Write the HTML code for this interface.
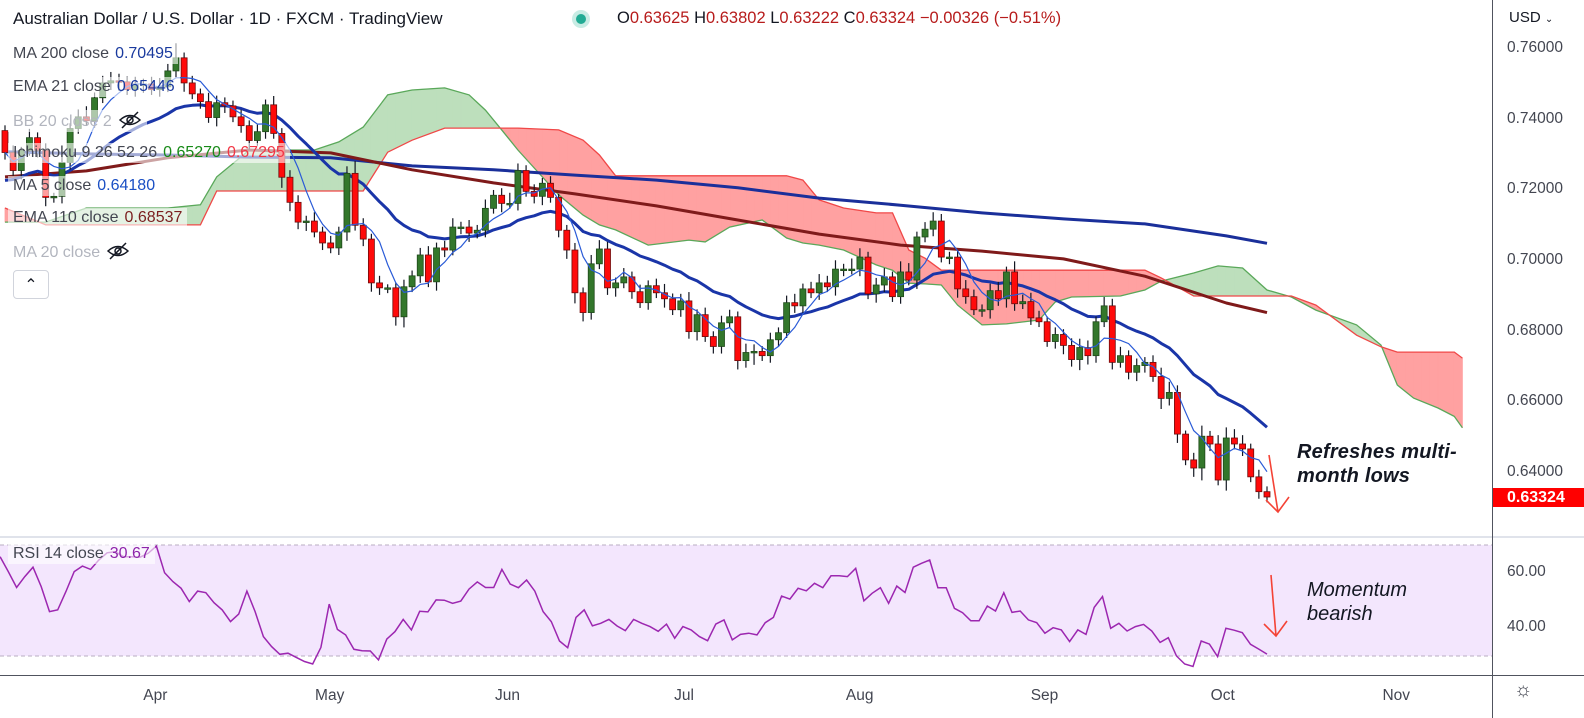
<!DOCTYPE html>
<html><head><meta charset="utf-8">
<style>
html,body{margin:0;padding:0;background:#fff;}
#wrap{position:relative;width:1584px;height:718px;overflow:hidden;font-family:"Liberation Sans",sans-serif;color:#131722;}
#chart{position:absolute;left:0;top:0;}
.hdr{position:absolute;left:13px;top:9px;font-size:17px;color:#131722;white-space:nowrap;}
.ohlc{position:absolute;left:617px;top:9px;font-size:16.5px;white-space:nowrap;color:#131722;}
.ohlc b{font-weight:normal;color:#b71c1c;}
.lg{position:absolute;left:8px;font-size:16px;white-space:nowrap;background:rgba(255,255,255,0.6);padding:1px 5px;color:#434651;}
.lg span{margin-left:6px;}
.lg span svg{position:static;display:inline-block;vertical-align:-3px;}
.muted{color:#b2b5be;}
.ax{position:absolute;font-size:15.5px;color:#434651;white-space:nowrap;}
.note{position:absolute;font-style:italic;font-weight:bold;font-size:20px;color:#131722;line-height:24px;letter-spacing:0.2px;}
.note2{position:absolute;font-style:italic;font-size:20px;color:#131722;line-height:24px;}
</style></head><body>
<div id="wrap">
<svg id="chart" width="1584" height="718"></svg>

<div class="hdr">Australian Dollar / U.S. Dollar · 1D · FXCM · TradingView</div>
<div style="position:absolute;left:572px;top:10px;width:18px;height:18px;border-radius:50%;background:#c8ece4;"></div>
<div style="position:absolute;left:576px;top:14px;width:10px;height:10px;border-radius:50%;background:#22ab94;"></div>
<div class="ohlc">O<b>0.63625</b> H<b>0.63802</b> L<b>0.63222</b> C<b>0.63324</b> <b>−0.00326 (−0.51%)</b></div>

<div class="lg" style="top:44px">MA 200 close<span style="color:#1a3a9e">0.70495</span></div>
<div class="lg" style="top:77px">EMA 21 close<span style="color:#1a3a9e">0.65446</span></div>
<div class="lg muted" style="top:110px">BB 20 close 2<span><svg width="24" height="18" viewBox="0 0 24 18"><path d="M2 9 Q12 0 22 9 Q12 18 2 9Z" fill="none" stroke="#131722" stroke-width="1.5"/><circle cx="12" cy="9" r="3" fill="none" stroke="#131722" stroke-width="1.5"/><line x1="4" y1="17" x2="20" y2="1" stroke="#131722" stroke-width="1.5"/></svg></span></div>
<div class="lg" style="top:143px">Ichimoku 9 26 52 26<span style="color:#178a17">0.65270</span><span style="color:#f23645">0.67295</span></div>
<div class="lg" style="top:176px">MA 5 close<span style="color:#1a4fc4">0.64180</span></div>
<div class="lg" style="top:208px">EMA 110 close<span style="color:#7b1f1f">0.68537</span></div>
<div class="lg muted" style="top:241px">MA 20 close<span><svg width="24" height="18" viewBox="0 0 24 18"><path d="M2 9 Q12 0 22 9 Q12 18 2 9Z" fill="none" stroke="#131722" stroke-width="1.5"/><circle cx="12" cy="9" r="3" fill="none" stroke="#131722" stroke-width="1.5"/><line x1="4" y1="17" x2="20" y2="1" stroke="#131722" stroke-width="1.5"/></svg></span></div>
<div style="position:absolute;left:13px;top:270px;width:34px;height:27px;border:1px solid #d1d4dc;border-radius:4px;background:#fff;text-align:center;font-size:16px;line-height:30px;">&#8963;</div>

<div class="lg" style="top:544px;left:8px">RSI 14 close<span style="color:#8e24aa">30.67</span></div>

<div class="ax" style="left:1509px;top:9px;font-size:15px;color:#131722">USD <span style="font-size:10px">&#8964;</span></div>

<div class="note" style="left:1297px;top:440px">Refreshes multi-<br>month lows</div>
<div class="note2" style="left:1307px;top:578px">Momentum<br>bearish</div>

<div class="ax" style="left:1514px;top:679px;font-size:20px">&#9788;</div>
</div>

<script>
// ---- data ----
const closes = [
.7307,.7256,.7313,.7349,.7313,.7180,.7183,.7279,.7375,.7408,
.7397,.7462,.7504,.7510,.7507,.7485,.7501,.7501,.7485,.7493,
.7538,.7575,.7504,.7473,.7451,.7406,.7448,.7439,.7408,.7383,
.7341,.7366,.7442,.7361,.7237,.7166,.7110,.7113,.7082,.7051,
.7037,.7082,.7248,.7101,.7062,.6938,.6924,.6924,.6842,
.6927,.6958,.7017,.6941,.7037,.7031,.7096,.7096,.7079,.7087,
.7149,.7186,.7163,.7163,.7256,.7197,.7183,.7220,.7180,.7087,
.7031,.6910,.6854,.6992,.7034,.6924,.6938,.6955,.6913,.6882,
.6930,.6910,.6893,.6862,.6887,.6800,.6848,.6786,.6758,.6825,
.6842,.6718,.6741,.6744,.6732,.6777,.6797,.6882,.6873,
.6921,.6910,.6938,.6927,.6977,.6977,.6977,.7011,.6907,.6932,
.6955,.6899,.6969,.6946,.7068,.7090,.7113,.7011,.7011,.6921,
.6899,.6862,.6862,.6916,.6893,.6969,.6879,.6885,.6839,.6828,
.6772,.6792,.6761,.6721,.6755,.6732,.6828,.6873,.6713,.6732,
.6685,.6704,.6713,.6673,.6611,.6628,.6510,
.6437,.6414,.6504,.6482,.6380,.6499,.6482,.6468,.6389,.6347,.6332];
const firstOpen = .7369;
const wickUpPips = [
15,20,10,25,15,20,10,25,15,20, 30,15,20,25,20,15,20,15,20,25, 20,40,15,20,15,25,20,15,15,20, 15,20,15,25,15,20,20,15,25,15, 20,15,20,35,20,15,20,10,15,
20,15,20,25,15,20,25,15,20,15, 25,15,20,30,20,15,20,15,20,10, 15,20,15,25,25,20,15,25,15,20, 15,20,25,15,20,25,15,20,15,20, 20,15,25,20,15,20,15,20,25,
15,20,25,20,25,15,30,25,15,20, 25,15,30,25,15,20,25,20,15,20, 25,20,15,20,25,15,30,20,25,20, 15,20,15,20,25,20,15,25,20,25, 15,20,15,20,25,30,20,
10,20,30,15,25,30,25,25,15,20,15];
const wickDnPips = [
20,15,25,15,20,25,15,20,20,15, 15,20,15,20,25,15,20,25,15,20, 15,20,25,15,20,15,25,20,15,20, 25,15,20,15,30,25,20,25,15,20, 15,20,25,15,20,25,20,15,25,
30,15,20,15,25,20,15,20,25,15, 20,15,25,15,20,15,20,25,15,20, 25,30,25,20,15,20,25,15,20,15, 20,15,25,15,20,20,25,15,20,20, 15,25,20,35,15,20,20,15,20,
20,15,20,15,25,20,15,20,15,25, 20,15,20,15,25,15,20,15,20,25, 20,15,20,25,20,25,20,15,20,15, 15,20,25,20,30,25,20,15,20,15, 20,25,20,15,30,20,25,
15,25,35,20,15,30,15,20,15,20,15];

const ma200Idx = [0,10,20,30,40,50,60,70,80,90,100,110,120,130,140,150,155];
const ma200 = [.7309,.7303,.7300,.7294,.7292,.7269,.7258,.7243,.7229,.7207,.7178,.7158,.7136,.7119,.7105,.7071,.7050];
const ema110 = [.7238,.7255,.7292,.7314,.7306,.7258,.7221,.7190,.7156,.7116,.7076,.7045,.7028,.7006,.6957,.6881,.6854];

const cloudIdx = [0,5,10,20,24,26,30,38,41,44,47,50,54,57,59,61,63,68,71,73,75,79,84,86,89,93,96,98,100,103,107,109,111,113,115,117,120,123,127,129,131,137,140,142,146,149,152,155,158,161,166,169,171,173,176,178,179];
const spanA = [.7110,.7110,.7150,.7150,.7159,.7238,.7314,.7314,.7337,.7379,.7470,.7484,.7490,.7470,.7427,.7371,.7314,.7187,.7130,.7102,.7088,.7045,.7059,.7054,.7096,.7116,.7065,.7051,.7045,.7031,.6989,.6974,.6937,.6935,.6932,.6875,.6819,.6822,.6833,.6884,.6898,.6901,.6918,.6943,.6966,.6986,.6980,.6918,.6898,.6861,.6819,.6762,.6649,.6612,.6584,.6560,.6528];
const spanB = [.7150,.7102,.7102,.7102,.7102,.7198,.7198,.7198,.7198,.7198,.7308,.7342,.7376,.7376,.7376,.7376,.7376,.7371,.7342,.7300,.7241,.7241,.7241,.7241,.7241,.7241,.7241,.7229,.7173,.7150,.7136,.7136,.7031,.7008,.6974,.6974,.6974,.6974,.6974,.6974,.6974,.6974,.6974,.6952,.6901,.6901,.6901,.6901,.6901,.6875,.6790,.6757,.6742,.6742,.6742,.6742,.6725];

const rsi = [65.8,60.4,54.7,58.6,62,55,46,46.6,53.2,60.4,62.4,61.2,64.6,67.2,67.6,65.8,65.8,65.6,67,69.6,60,56.8,54.4,49.6,53.4,52.8,49.2,46.6,42.4,45.1,53.4,46,37,33.4,30.6,31,29.5,28,27.1,33.1,48.7,39.6,37.6,32.4,31.9,31.8,28.6,36.1,38.8,43.2,39.4,46.1,45.9,50.2,50.1,49,49.8,54.1,56.7,54.7,54.7,61.2,55.9,54.6,57.4,53.4,46,42.4,35.4,33,43.9,46.6,40.9,41.8,43.2,40.8,39.1,43.2,41.8,40.6,38.9,41.5,36.4,40.6,
39.4,37,35.5,41.5,43,35.8,37.8,38.2,37.6,42,43.9,51.6,50.5,54.4,53.5,56.2,54.6,58.9,58.9,58.6,61.6,49.9,52.6,54.6,49,55.2,52.9,62,63.4,64.6,54.6,54.6,47.2,45.6,42.7,42.7,48,46.2,52.8,45.7,46.2,43,42,38.2,40.2,39.4,35.2,39.4,37.8,47.5,51.4,40,41.8,39,40.6,41.4,39,34.9,36.6,30,27.1,26.2,35.4,34.3,29.8,40,39.3,38.4,34.2,32.5,30.67];

const priceTicks = [0.76,0.74,0.72,0.70,0.68,0.66,0.64];
const rsiTicks = [60,40];
const months = ["Apr","May","Jun","Jul","Aug","Sep","Oct","Nov"];
const monthIdx = [18.7,39.8,61.9,83.9,105,127.7,149.8,170.9];
const lastPrice = 0.63324;

// ---- scales ----
const N = closes.length;
const X0 = 5, X1 = 1267;
function xs(i){ return X0 + i*(X1-X0)/(N-1); }
function yp(p){ return 49 + (0.76-p)*3533; }
function yr(v){ return 545 + (70-v)*111/40; }
const NS = "http://www.w3.org/2000/svg";
const svg = document.getElementById('chart');
function mk(tag, attrs, parent){
  const e = document.createElementNS(NS, tag);
  for (const k in attrs) e.setAttribute(k, attrs[k]);
  (parent||svg).appendChild(e); return e;
}
const defs = mk('defs',{});
const cp = mk('clipPath',{id:'mainclip'},defs); mk('rect',{x:0,y:0,width:1492,height:536},cp);
const cr = mk('clipPath',{id:'rsiclip'},defs); mk('rect',{x:0,y:538,width:1492,height:136},cr);

const chrome = mk('g',{});


mk('line',{x1:0,y1:537,x2:1584,y2:537,stroke:'#e0e3eb','stroke-width':2},chrome);
mk('line',{x1:1492.5,y1:0,x2:1492.5,y2:718,stroke:'#50535e','stroke-width':1},chrome);
mk('line',{x1:0,y1:675.5,x2:1584,y2:675.5,stroke:'#50535e','stroke-width':1},chrome);

const rsiG = mk('g',{'clip-path':'url(#rsiclip)'});


const band = mk('rect',{x:0,y:yr(70),width:1492,height:yr(30)-yr(70),fill:'#f3e6fd'},rsiG);


[70,30].forEach(v=>{
  const l = mk('line',{x1:0,x2:1492,y1:yr(v),y2:yr(v),stroke:'#b8aec2','stroke-dasharray':'4 3','stroke-width':1},rsiG);
  
  
});
{
  const xa = -0.6, xb = N-1;
  let d='';
  rsi.forEach((v,j)=>{ const x = xs(xa + j*(xb-xa)/(rsi.length-1)); d += (j?'L':'M')+x.toFixed(1)+','+yr(v).toFixed(1); });
  const p = mk('path',{d:d,fill:'none',stroke:'#9c27b0','stroke-width':1.5},rsiG);
  
  
}

const main = mk('g',{'clip-path':'url(#mainclip)'});



const maxI = cloudIdx[cloudIdx.length-1];
function interp(idxArr, vals, i){
  for (let k=0;k<idxArr.length-1;k++){
    if (i>=idxArr[k] && i<=idxArr[k+1]){
      const t=(i-idxArr[k])/(idxArr[k+1]-idxArr[k]); return vals[k]+(vals[k+1]-vals[k])*t; }
  }
  return vals[vals.length-1];
}
const cloudG = mk('g',{},main);


for (let i=0;i<maxI;i++){
  const a0=interp(cloudIdx,spanA,i), a1=interp(cloudIdx,spanA,i+1);
  const b0=interp(cloudIdx,spanB,i), b1=interp(cloudIdx,spanB,i+1);
  const d0=a0-b0, d1=a1-b1;
  const seg=(x0,xa0,xb0,x1,xa1,xb1,col)=>{
    const poly = mk('polygon',{points:`${x0},${yp(xa0)} ${x1},${yp(xa1)} ${x1},${yp(xb1)} ${x0},${yp(xb0)}`,fill:col,stroke:col,'stroke-width':0.8,'stroke-linejoin':'round'},cloudG);
    
    
  };
  const G='#bddfbc', R='#ffa1a1';
  if (d0*d1<0){
    const t=d0/(d0-d1); const xm=xs(i+t); const am=a0+(a1-a0)*t;
    seg(xs(i),a0,b0,xm,am,am,d0>0?G:R);
    seg(xm,am,am,xs(i+1),a1,b1,d1>0?G:R);
  } else seg(xs(i),a0,b0,xs(i+1),a1,b1,(d0+d1)>=0?G:R);
}
function linePath(idxArr, vals){
  return vals.map((v,k)=>(k?'L':'M')+xs(idxArr[k]).toFixed(1)+','+yp(v).toFixed(1)).join('');
}
const sA = mk('path',{d:linePath(cloudIdx,spanA),fill:'none',stroke:'#5aa85a','stroke-width':1.3},main);


const sB = mk('path',{d:linePath(cloudIdx,spanB),fill:'none',stroke:'#f04848','stroke-width':1.3},main);



const m200 = mk('path',{d:linePath(ma200Idx,ma200),fill:'none',stroke:'#1a2f9a','stroke-width':3,'stroke-linejoin':'round'},main);


const m110 = mk('path',{d:linePath(ma200Idx,ema110),fill:'none',stroke:'#7f1a1a','stroke-width':3,'stroke-linejoin':'round'},main);



const idxAll = closes.map((_,i)=>i);
const ema21 = []; { let e=0.7228; const k=2/22; closes.forEach((c,i)=>{ e = i===0? e : e + k*(c-e); ema21.push(e); }); }
const ma5 = closes.map((c,i)=>{ const s=closes.slice(Math.max(0,i-4),i+1); return s.reduce((a,b)=>a+b,0)/s.length; });
const e21 = mk('path',{d:linePath(idxAll,ema21),fill:'none',stroke:'#1a35a8','stroke-width':3,'stroke-linejoin':'round'},main);



const candG = mk('g',{},main);


closes.forEach((c,i)=>{
  const o = i===0? firstOpen : closes[i-1];
  const hi = Math.max(o,c) + wickUpPips[i]/10000;
  const lo = Math.min(o,c) - wickDnPips[i]/10000;
  const x = xs(i);
  const up = c>=o;
  const g = mk('g',{},candG);
  
  
  mk('line',{x1:x,x2:x,y1:yp(hi),y2:yp(lo),stroke:'#131722','stroke-width':1.2},g);
  const top = yp(Math.max(o,c)), h = Math.max(1.5, Math.abs(yp(o)-yp(c)));
  mk('rect',{x:x-3,y:top,width:6,height:h,fill:up?'#33772b':'#ff0a0a',stroke:up?'#1f4a1a':'#6d0c0c','stroke-width':0.8},g);
});
const m5 = mk('path',{d:linePath(idxAll,ma5),fill:'none',stroke:'#2a5bd7','stroke-width':1.2},main);



function arrow(x1,y1,x2,y2,name){
  const g = mk('g',{stroke:'#f44336','stroke-width':1.6,fill:'none'});
  
  
  mk('line',{x1:x1,y1:y1,x2:x2,y2:y2},g);
  mk('polyline',{points:`${x2-12},${y2-12} ${x2},${y2} ${x2+11},${y2-15}`},g);
}
arrow(1269,455,1278,512,'price-arrow');
arrow(1271,575,1276,636,'rsi-arrow');

const wrap = document.getElementById('wrap');
priceTicks.forEach(t=>{
  const d = document.createElement('div');
  d.className='ax';
  d.style.left='1507px'; d.style.top=(yp(t)-10)+'px';
  d.textContent=t.toFixed(5);
  
  
  wrap.appendChild(d);
});
rsiTicks.forEach(t=>{
  const d = document.createElement('div');
  d.className='ax';
  d.style.left='1507px'; d.style.top=(yr(t)-10)+'px';
  d.textContent=t.toFixed(2);
  
  
  wrap.appendChild(d);
});
months.forEach((m,k)=>{
  const d = document.createElement('div');
  d.className='ax';
  d.style.left=(xs(monthIdx[k])-14)+'px'; d.style.top='687px';
  d.textContent=m;
  
  
  wrap.appendChild(d);
});
{
  const d = document.createElement('div');
  d.style.cssText='position:absolute;left:1493px;width:91px;height:19px;background:#ff0000;color:#fff;font-size:16px;font-weight:bold;line-height:19px;padding-left:14px;box-sizing:border-box;';
  d.style.top=(yp(lastPrice)-9)+'px';
  d.textContent=lastPrice.toFixed(5);
  
  
  wrap.appendChild(d);
}
</script>
</body></html>
